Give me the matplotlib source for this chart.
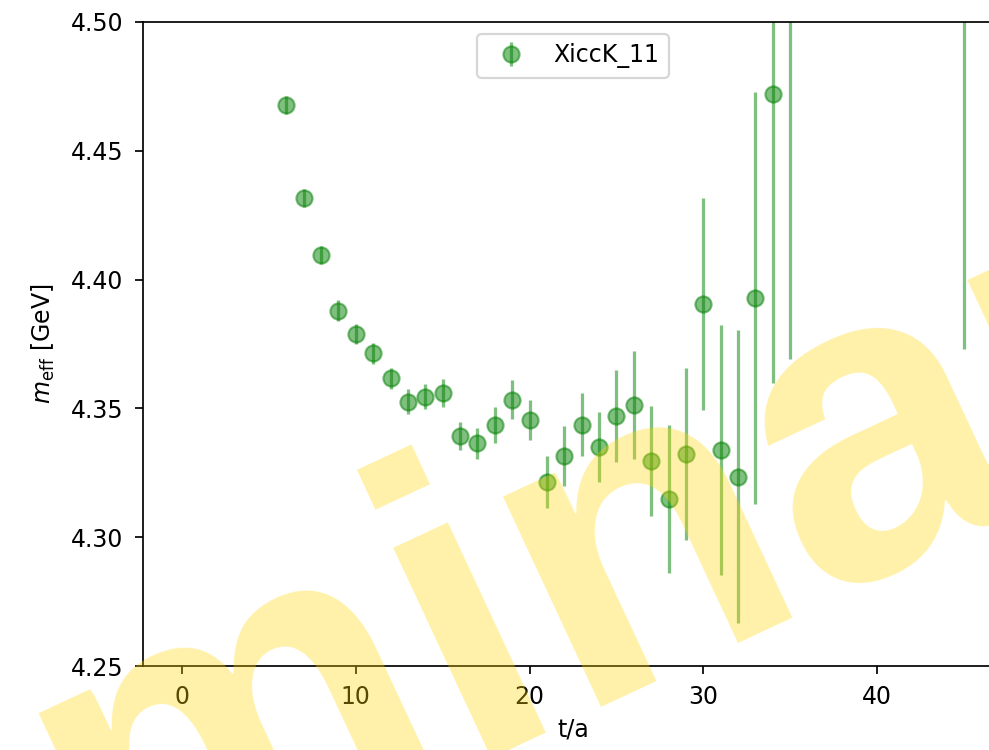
import matplotlib
matplotlib.use('Agg')
import matplotlib.pyplot as plt
import numpy as np

# effective mass data
t = [6, 7, 8, 9, 10, 11, 12, 13, 14, 15, 16, 17, 18, 19, 20,
     21, 22, 23, 24, 25, 26, 27, 28, 29, 30, 31, 32, 33, 34, 35, 45]
m_eff = [4.4678, 4.4318, 4.4094, 4.3879, 4.3789, 4.3714, 4.3617, 4.3526,
         4.3545, 4.3561, 4.3393, 4.3364, 4.3436, 4.3533, 4.3455,
         4.3214, 4.3315, 4.3436, 4.3350, 4.3470, 4.3513, 4.3296, 4.3148,
         4.3323, 4.3905, 4.3339, 4.3234, 4.3929, 4.4720, 4.5200, 4.6000]
m_err = [0.0035, 0.0035, 0.0035, 0.0040, 0.0040, 0.0041, 0.0040, 0.0049,
         0.0049, 0.0055, 0.0055, 0.0060, 0.0070, 0.0076, 0.0076,
         0.0100, 0.0116, 0.0122, 0.0135, 0.0180, 0.0208, 0.0215, 0.0287,
         0.0333, 0.0410, 0.0485, 0.0569, 0.0800, 0.1120, 0.1510, 0.2270]
label = 'XiccK_11'

plt.rcParams['font.size'] = 11

fig = plt.figure(figsize=(989 / 155, 750 / 155), dpi=155)
# axes runs past the right edge of the picture, as in the reference
ax = fig.add_axes([0.1446, 0.112, 0.8696, 0.8587])

ax.errorbar(t, m_eff, yerr=m_err, fmt='o', color='g', alpha=0.5,
            markersize=7.5, label=label)
ax.set_xlim(-2.25, 47.25)
ax.set_ylim(4.25, 4.50)
ax.tick_params(pad=5.5)
ax.set_xlabel('t/a', labelpad=4)
ax.set_ylabel(r'$m_{\rm eff}$ [GeV]')
ax.yaxis.set_label_coords(-0.10, 0.5)
ax.legend(loc='upper center')

# watermark
fig.text(-0.7628, -0.768, 'Preliminary', fontsize=204, fontweight='bold',
         family='Liberation Sans', color='#FFD700', alpha=0.34, rotation=25,
         rotation_mode='anchor', ha='left', va='baseline',
         transform=fig.transFigure)

fig.savefig('out.png', dpi=155)
